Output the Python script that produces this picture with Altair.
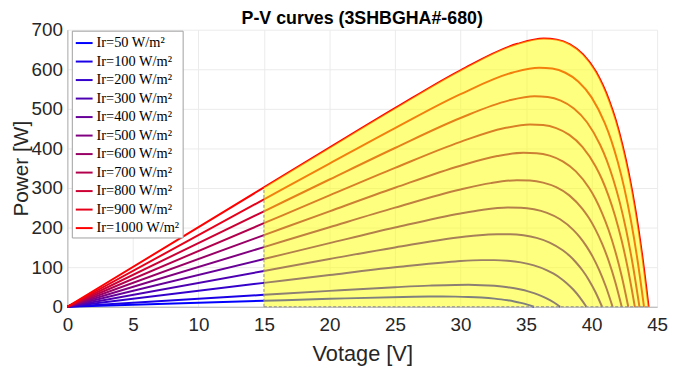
import altair as alt
import pandas as pd

ir_levels = [50, 100, 200, 300, 400, 500, 600, 700, 800, 900, 1000]
line_colors = ["#0000ff", "#1a00e6", "#3300cc", "#4d00b3", "#660099", "#800080",
               "#990066", "#b3004d", "#cc0033", "#e6001a", "#ff0000"]

v_50 = [0, 15, 20, 25.6, 27.6, 28.6, 29.6, 30.6, 31.6, 32.6, 33.1, 33.6, 34.1, 34.6, 35.1, 35.6]
p_50 = [0, 15.06, 19.98, 24.76, 25.73, 25.84, 25.58, 24.79, 23.21, 20.51, 18.63, 16.24, 13.33, 9.74, 5.33, 0]

v_100 = [0, 15, 20, 25, 27.6, 29.6, 30.6, 31.6, 32.6, 33.6, 34.6, 35.1, 35.6, 36.1, 36.6, 37.1, 37.6]
p_100 = [0, 30.1, 40.1, 49.4, 53.4, 55.2, 55.3, 54.6, 52.8, 49.4, 43.5, 39.5, 34.4, 28.2, 20.6, 11.3, 0]

v_200 = [0, 15, 20, 25, 29.6, 31.6, 32.6, 33.6, 34.6, 35.6, 36.6, 37.1, 37.6, 38.1, 38.6, 39.1, 39.6]
p_200 = [0, 60.3, 80.3, 99.7, 114.5, 117.8, 117.8, 116.2, 112.1, 104.6, 92.1, 83.5, 72.7, 59.6, 43.5, 23.7, 0]

v_300 = [0, 15, 20, 25, 30.8, 32.8, 33.8, 34.8, 35.8, 36.8, 37.8, 38.3, 38.8, 39.3, 39.8, 40.3, 40.8]
p_300 = [0, 90.4, 120.5, 149.9, 178.7, 183.4, 183.2, 180.5, 174.0, 162.2, 142.7, 129.3, 112.5, 92.2, 67.2, 36.7, 0]

v_400 = [0, 15, 20, 25, 30, 31.6, 33.6, 34.6, 35.6, 36.6, 37.6, 38.6, 39.1, 39.6, 40.1, 40.6, 41.1, 41.6]
p_400 = [0, 120.6, 160.7, 200.1, 235.8, 244.5, 250.5, 250.1, 246.2, 237.2, 221.0, 194.3, 176.0, 153.1, 125.4, 91.4, 49.9, 0]

v_500 = [0, 15, 20, 25, 30, 32.3, 34.3, 35.3, 36.3, 37.3, 38.3, 39.3, 39.8, 40.3, 40.8, 41.3, 41.8, 42.3]
p_500 = [0, 150.7, 200.9, 250.4, 296.2, 312.4, 319.7, 318.9, 313.7, 302.1, 281.4, 247.2, 224.0, 194.8, 159.5, 116.2, 63.4, 0]

v_600 = [0, 15, 20, 25, 30, 32.8, 34.8, 35.8, 36.8, 37.8, 38.8, 39.8, 40.3, 40.8, 41.3, 41.8, 42.3, 42.8]
p_600 = [0, 180.9, 241.1, 300.6, 356.4, 380.7, 389.2, 388.1, 381.7, 367.4, 342.1, 300.5, 272.2, 236.7, 193.8, 141.1, 77.0, 0]

v_700 = [0, 15, 20, 25, 30, 33.3, 35.3, 36.3, 37.3, 38.3, 39.3, 40.3, 40.8, 41.3, 41.8, 42.3, 42.8, 43.3]
p_700 = [0, 211.1, 281.3, 350.9, 416.7, 450.9, 460.6, 459.1, 451.3, 434.3, 404.2, 355.0, 321.5, 279.5, 228.8, 166.6, 90.9, 0]

v_800 = [0, 15, 20, 25, 30, 33.65, 35.65, 36.65, 37.65, 38.65, 39.65, 40.65, 41.15, 41.65, 42.15, 42.65, 43.15, 43.65]
p_800 = [0, 241.2, 321.5, 401.1, 476.9, 520.7, 531.7, 529.8, 520.7, 500.9, 466.1, 409.2, 370.6, 322.1, 263.7, 192.0, 104.8, 0]

v_900 = [0, 15, 20, 25, 30, 34, 36, 37, 38, 39, 40, 41, 41.5, 42, 42.5, 43, 43.5, 44]
p_900 = [0, 271.4, 361.7, 451.3, 537.2, 591.9, 603.9, 601.7, 591.2, 568.6, 529.0, 464.3, 420.4, 365.5, 299.1, 217.8, 118.8, 0]

v_1000 = [0, 15, 20, 25, 30, 34.35, 36.35, 37.35, 38.35, 39.35, 40.35, 41.35, 41.85, 42.35, 42.85, 43.35, 43.85, 44.35]
p_1000 = [0, 301.5, 401.9, 501.6, 597.5, 664.4, 677.6, 674.9, 662.9, 637.5, 592.9, 520.3, 471.1, 409.4, 335.0, 244.0, 133.1, 0]

shade_start = 15
x_ticks = [0, 5, 10, 15, 20, 25, 30, 35, 40, 45]
y_ticks = [0, 100, 200, 300, 400, 500, 600, 700]

series_v = [v_50, v_100, v_200, v_300, v_400, v_500, v_600, v_700, v_800, v_900, v_1000]
series_p = [p_50, p_100, p_200, p_300, p_400, p_500, p_600, p_700, p_800, p_900, p_1000]

rows = []
for g, vs, ps in zip(ir_levels, series_v, series_p):
    for v, p in zip(vs, ps):
        rows.append({"Ir": str(g), "V": v, "P": p})
df = pd.DataFrame(rows)

df_area = pd.DataFrame({"V": [v for v in v_1000 if v >= shade_start],
                        "P": [p for v, p in zip(v_1000, p_1000) if v >= shade_start]})
df_left = pd.DataFrame({"V": [shade_start], "P0": [0], "P1": [p_1000[v_1000.index(shade_start)]]})
df_bottom = pd.DataFrame({"V0": [shade_start], "V1": [v_1000[-1]], "P": [0]})

xscale = alt.Scale(domain=[0, 45], nice=False)
yscale = alt.Scale(domain=[0, 700], nice=False)

xaxis = alt.Axis(values=x_ticks, title="Votage [V]", labelFlush=False, labelOverlap=False,
                 labelPadding=9, titlePadding=9, grid=True)
yaxis = alt.Axis(values=y_ticks, title="Power [W]", labelOverlap=False, labelPadding=5,
                 titlePadding=0, titleFontSize=21, grid=True)

lines = alt.Chart(df).mark_line(interpolate="monotone", strokeWidth=2).encode(
    x=alt.X("V:Q", scale=xscale, axis=xaxis),
    y=alt.Y("P:Q", scale=yscale, axis=yaxis),
    color=alt.Color("Ir:N",
                    scale=alt.Scale(domain=[str(g) for g in ir_levels], range=line_colors),
                    legend=alt.Legend(title=None, orient="none", legendX=4.5, legendY=1,
                                      fillColor="white", strokeColor="#a0a0a0",
                                      padding=3, symbolType="stroke", symbolSize=289,
                                      symbolStrokeWidth=2, labelFont="Liberation Serif",
                                      labelFontSize=14.5, labelColor="black",
                                      labelExpr="'Ir=' + datum.label + ' W/m²'",
                                      rowPadding=2.7, labelOffset=3)),
    detail="Ir:N",
)

area = alt.Chart(df_area).mark_area(interpolate="monotone", color="#ffff00",
                                    opacity=0.5, strokeWidth=0).encode(
    x=alt.X("V:Q", scale=xscale, axis=xaxis),
    y=alt.Y("P:Q", scale=yscale, axis=yaxis),
)

left_edge = alt.Chart(df_left).mark_rule(color="#909090", strokeDash=[3, 2], strokeWidth=1).encode(
    x=alt.X("V:Q", scale=xscale, axis=xaxis),
    y=alt.Y("P0:Q", scale=yscale, axis=yaxis),
    y2="P1:Q",
)

bottom_edge = alt.Chart(df_bottom).mark_rule(color="#909090", strokeDash=[3, 2], strokeWidth=1).encode(
    x=alt.X("V0:Q", scale=xscale, axis=xaxis),
    x2="V1:Q",
    y=alt.Y("P:Q", scale=yscale, axis=yaxis),
)

chart = alt.layer(lines, area, left_edge, bottom_edge).properties(
    width=596, height=280,
    padding={"left": 60, "top": 20, "right": 11, "bottom": 62},
    autosize=alt.AutoSizeParams(type="none"),
    title=alt.TitleParams("P-V curves (3SHBGHA#-680)", font="Liberation Sans", fontSize=18,
                          fontWeight="bold", color="black", anchor="middle",
                          frame="group", offset=-7),
).configure_axis(
    labelFont="Liberation Sans", labelFontSize=19, labelColor="#262626",
    titleFont="Liberation Sans", titleFontSize=22, titleFontWeight="normal",
    titleColor="#262626", gridColor="#ebebeb", domainColor="#b0b0b0",
    ticks=False, tickSize=0,
).configure_view(strokeWidth=0)

chart.save("out.html", embed_options={"renderer": "svg", "actions": False})
